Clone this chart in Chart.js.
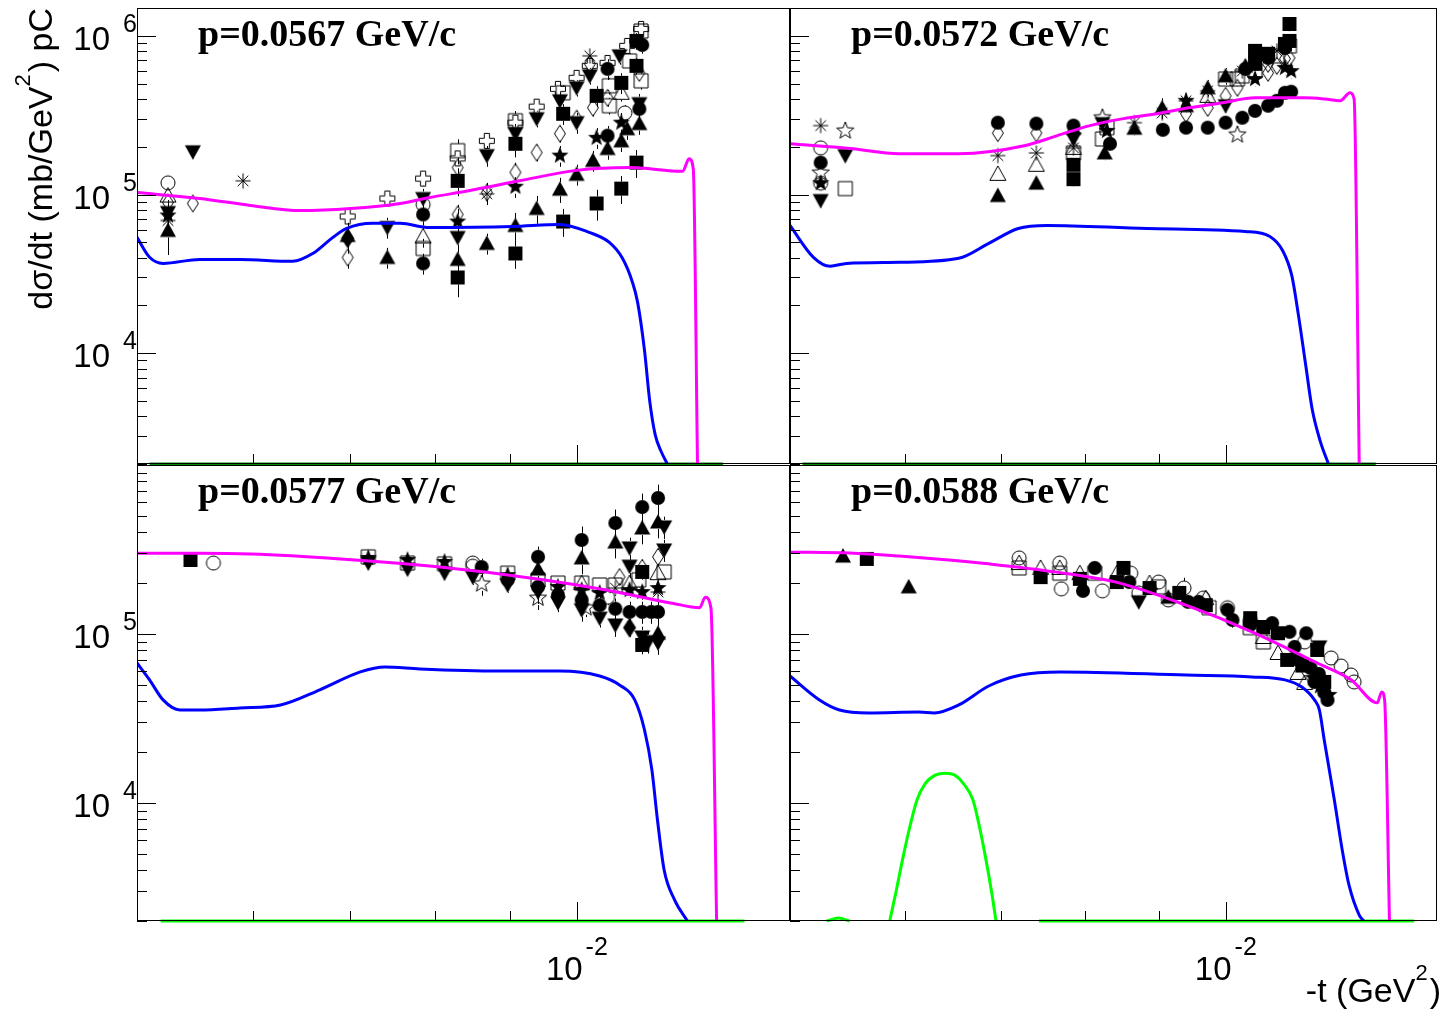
<!DOCTYPE html>
<html>
<head>
<meta charset="utf-8">
<title>dsigma/dt pC</title>
<script src="https://cdn.jsdelivr.net/npm/chart.js@4.4.1/dist/chart.umd.min.js"></script>
<style>
  html, body { margin: 0; padding: 0; background: #fff; }
  #wrap { position: relative; width: 1445px; height: 1010px; }
  #wrap canvas { position: absolute; left: 0; top: 0; }
</style>
</head>
<body>
<div id="wrap">
  <canvas id="tl" width="1445" height="1010"></canvas>
  <canvas id="tr" width="1445" height="1010"></canvas>
  <canvas id="bl" width="1445" height="1010"></canvas>
  <canvas id="br" width="1445" height="1010"></canvas>
</div>
<script>
// -t is given in units of 1e-3 GeV^2, cross sections in mb/GeV^2
// marker rows: [t, dsigma/dt, relative error]

const titles = ['p=0.0567 GeV/c', 'p=0.0572 GeV/c', 'p=0.0577 GeV/c', 'p=0.0588 GeV/c'];
const xRange = [5, 14];
const yRangeTop = [2000, 1.5e6];
const yRangeBottom = [2000, 1e6];

// ---- p = 0.0567 ----
const tl_magenta = [[5.0,1.03e5],[5.52,9.44e4],[5.98,8.53e4],[6.47,7.92e4],[7.0,8.16e4],[7.57,8.78e4],[7.93,9.57e4],[8.45,1.06e5],[9.14,1.22e5],[10.0,1.42e5],[10.87,1.48e5],[11.82,1.40e5],[11.94,1.68e5],[12.02,1.45e5],[12.10,2000]];
const tl_blue = [[5.0,5.37e4],[5.10,4.02e4],[5.21,3.68e4],[5.52,3.90e4],[5.88,3.90e4],[6.39,3.79e4],[6.60,4.26e4],[6.81,5.37e4],[6.96,6.11e4],[7.25,6.58e4],[7.57,6.58e4],[7.93,6.20e4],[9.04,6.29e4],[9.74,6.48e4],[10.2,5.77e4],[10.53,4.99e4],[10.75,3.96e4],[10.92,2.80e4],[11.01,2.09e4],[11.13,1.04e4],[11.22,5060],[11.32,3050],[11.43,2380],[11.54,2000]];
const tl_green = [[5.10,2000],[12.6,2000]];

const tl_fc = [[7.85,7.49e4,.15],[7.85,3.68e4,.15],[10.50,6.20e5,.15],[10.50,2.35e5,.15],[11.09,8.78e5,.12],[11.04,3.47e5,.15]];
const tl_fs = [[8.29,1.22e5,.2],[8.29,3.00e4,.25],[9.08,2.09e5,.18],[9.08,4.25e4,.2],[9.79,3.23e5,.15],[9.79,6.76e4,.2],[10.32,4.19e5,.15],[10.32,8.78e4,.22],[10.73,5.06e5,.15],[10.73,1.09e5,.2],[10.99,9.30e5,.12],[10.99,6.48e5,.12],[10.99,1.59e5,.2]];
const tl_fu = [[5.25,5.94e4,.3],[6.97,5.52e4,.2],[7.42,4.01e4,.15],[8.29,3.90e4,.2],[8.68,4.92e4,.15],[9.08,6.38e4,.2],[9.39,8.17e4,.2],[9.74,1.08e5,.18],[10.0,1.34e5,.15],[10.26,1.64e5,.15],[10.50,1.95e5,.15],[10.73,2.18e5,.15],[10.83,2.60e5,.15],[11.04,2.80e5,.15]];
const tl_fd = [[5.46,1.86e5,.1],[5.25,7.70e4,.2],[7.42,6.20e4,.15],[7.85,9.44e4,.15],[8.29,5.36e4,.2],[8.68,1.76e5,.15],[9.08,2.42e5,.15],[9.39,3.01e5,.12],[9.74,3.90e5,.12],[10.0,4.71e5,.12],[10.0,2.84e5,.15],[10.21,5.60e5,.12],[10.70,7.49e5,.12],[11.04,3.74e5,.15]];
const tl_oc = [[5.25,1.185e5,.1],[7.85,8.65e4,.15],[10.79,3.27e5,.12]];
const tl_os = [[7.85,4.57e4,.15],[8.29,1.89e5,.18],[9.08,2.92e5,.15],[9.79,4.38e5,.12],[10.53,4.85e5,.12],[10.53,3.63e5,.12],[11.07,1.075e6,.1],[11.07,5.21e5,.12],[10.87,6.96e5,.12]];
const tl_ou = [[5.25,9.86e4,.1],[7.85,5.44e4,.15],[10.73,4.38e5,.12]];
const tl_odia = [[5.25,8.91e4,.1],[5.46,8.78e4,.1],[6.97,4.01e4,.15],[8.29,1.48e5,.15],[8.29,7.49e4,.15],[8.68,1.03e5,.15],[9.08,1.38e5,.15],[9.39,1.84e5,.12],[9.74,2.42e5,.12],[10.0,3.01e5,.12],[10.26,3.53e5,.12],[10.21,6.67e5,.1],[10.50,4.07e5,.12],[11.04,5.85e5,.1]];
const tl_fdia = [[6.97,5.29e4,.2]];
const tl_fstar = [[5.25,7.38e4,.2],[8.29,6.76e4,.2],[9.08,1.12e5,.15],[9.74,1.76e5,.15],[10.32,2.28e5,.15],[10.73,2.84e5,.15]];
const tl_ast = [[5.25,6.86e4,.2],[5.91,1.22e5,.1],[8.68,1.01e5,.15],[10.21,7.49e5,.1]];
const tl_ocross = [[6.97,7.27e4,.1],[7.42,9.44e4,.1],[7.85,1.26e5,.1],[8.29,1.69e5,.1],[8.68,2.18e5,.1],[9.08,2.84e5,.1],[9.39,3.58e5,.1],[9.71,4.64e5,.1],[10.0,5.44e5,.1],[10.21,6.48e5,.1],[10.50,6.76e5,.1],[10.83,8.65e5,.08],[11.07,1.107e6,.08]];

// ---- p = 0.0572 ----
const tr_magenta = [[5.0,2.09e5],[5.5,1.95e5],[5.95,1.81e5],[6.54,1.81e5],[7.26,2.03e5],[7.65,2.35e5],[8.06,2.72e5],[8.5,3.01e5],[8.96,3.23e5],[9.43,3.52e5],[9.95,3.79e5],[10.48,4.07e5],[11.34,4.07e5],[11.71,4.0e5],[12.0,3.9e5],[12.19,4.38e5],[12.27,4.0e5],[12.37,2000]];
const tr_blue = [[5.0,6.38e4],[5.19,4.02e4],[5.33,3.53e4],[5.47,3.68e4],[5.95,3.74e4],[6.54,3.96e4],[6.86,4.92e4],[7.19,6.11e4],[7.53,6.38e4],[8.82,6.11e4],[10.32,5.85e4],[10.73,5.44e4],[10.95,4.44e4],[11.11,3.10e4],[11.23,1.73e4],[11.36,8410],[11.48,4390],[11.63,2760],[11.78,2000]];
const tr_green = [[5.1,2000],[12.7,2000]];

const tr_fc = [[5.25,1.59e5,.08],[6.96,2.84e5,.08],[7.40,2.80e5,.08],[7.85,2.72e5,.08],[8.32,2.09e5,.08],[9.05,2.56e5,.06],[9.39,2.64e5,.06],[9.72,2.64e5,.06],[10.0,2.84e5,.06],[10.27,3.05e5,.06],[10.48,3.37e5,.06],[10.70,3.63e5,.06],[10.85,3.90e5,.06],[10.99,4.38e5,.06],[11.10,4.45e5,.06],[10.32,6.20e5,.1],[10.70,7.27e5,.1],[10.99,8.40e5,.1]];
const tr_fs = [[7.85,1.54e5,.1],[7.85,1.25e5,.1],[10.48,8.05e5,.1],[10.48,6.67e5,.1],[10.70,7.72e5,.1],[10.99,8.91e5,.1],[11.07,1.19e6,.1],[11.07,9.30e5,.1]];
const tr_fu = [[6.96,9.86e4,.08],[7.40,1.18e5,.08],[7.85,2.62e5,.1],[8.25,1.83e5,.1],[8.65,2.62e5,.1],[9.04,3.52e5,.15],[9.39,3.63e5,.1],[9.72,4.71e5,.12],[10.0,5.60e5,.12],[10.32,6.48e5,.1]];
const tr_fd = [[5.25,9.17e4,.1],[5.46,1.76e5,.08],[8.22,2.80e5,.1],[10.0,3.63e5,.1],[7.85,2.24e5,.1]];
const tr_oc = [[5.25,1.97e5,.08],[5.25,1.18e5,.08]];
const tr_os = [[5.46,1.09e5,.05],[7.85,1.83e5,.1],[8.22,2.24e5,.1],[8.28,2.64e5,.1],[10.0,5.35e5,.1],[10.19,5.35e5,.1],[10.27,5.60e5,.1],[10.48,6.02e5,.1],[10.85,7.49e5,.1],[11.07,8.65e5,.1]];
const tr_ou = [[6.96,1.35e5,.08],[7.40,1.54e5,.08],[9.72,4.19e5,.1],[7.85,1.97e5,.1]];
const tr_odia = [[6.96,2.44e5,.08],[7.40,2.44e5,.08],[9.39,3.23e5,.1],[9.72,3.52e5,.1],[10.0,4.19e5,.1],[10.19,4.71e5,.1],[10.70,5.85e5,.1],[10.70,6.67e5,.1],[10.85,6.48e5,.1],[10.99,7.17e5,.1],[11.07,7.27e5,.1]];
const tr_fstar = [[5.25,1.18e5,.08],[8.28,2.52e5,.1],[9.39,3.90e5,.1],[10.48,5.35e5,.1],[10.99,6.29e5,.1],[11.10,6.0e5,.1]];
const tr_ostar = [[5.25,1.37e5,.08],[5.46,2.52e5,.08],[8.22,3.05e5,.1],[10.19,2.38e5,.08]];
const tr_ast = [[5.25,2.72e5,.08],[6.96,1.76e5,.08],[7.40,1.83e5,.08],[7.85,1.97e5,.1],[8.65,2.84e5,.1],[9.04,3.27e5,.1],[9.39,3.90e5,.1],[9.72,4.51e5,.1],[10.27,6.02e5,.1],[10.85,8.05e5,.1]];

// ---- p = 0.0577 ----
const bl_magenta = [[5.0,3.0e5],[5.52,3.0e5],[5.98,2.97e5],[6.89,2.78e5],[8.06,2.49e5],[9.43,2.11e5],[10.48,1.82e5],[11.63,1.52e5],[12.14,1.43e5],[12.25,1.65e5],[12.36,1.42e5],[12.47,2000]];
const bl_blue = [[5.0,6.73e4],[5.10,5.35e4],[5.21,4.07e4],[5.35,3.55e4],[5.52,3.55e4],[5.88,3.65e4],[6.27,3.80e4],[6.67,4.67e4],[7.11,5.96e4],[7.39,6.38e4],[7.81,6.21e4],[8.86,6.04e4],[9.74,6.04e4],[10.37,5.64e4],[10.70,4.99e4],[10.96,4.07e4],[11.13,2.70e4],[11.26,1.57e4],[11.36,7920],[11.48,4010],[11.67,2670],[11.91,2000]];
const bl_green = [[5.19,2000],[13.03,2000]];

const bl_fc = [[8.61,2.49e5,.12],[8.97,2.09e5,.12],[9.41,2.86e5,.15],[9.41,1.90e5,.15],[9.71,1.70e5,.12],[10.08,3.60e5,.2],[10.08,1.59e5,.15],[10.37,1.48e5,.12],[10.63,4.54e5,.2],[10.63,1.41e5,.15],[10.87,1.35e5,.15],[11.09,5.64e5,.2],[11.09,1.35e5,.15],[11.25,1.35e5,.15],[11.37,6.38e5,.2],[11.37,1.35e5,.15]];
const bl_fs = [[5.44,2.74e5,.05],[11.09,2.33e5,.1],[11.09,8.61e4,.12]];
const bl_fu = [[9.41,2.42e5,.15],[10.08,2.82e5,.2],[10.63,3.50e5,.2],[11.09,4.24e5,.2],[11.37,4.60e5,.2],[11.37,1.01e5,.15]];
const bl_fd = [[7.20,2.63e5,.05],[7.66,2.42e5,.05],[8.12,2.29e5,.06],[8.49,2.17e5,.1],[8.97,1.95e5,.1],[9.41,1.77e5,.15],[9.71,1.53e5,.12],[10.08,1.39e5,.15],[10.37,1.24e5,.12],[10.63,1.13e5,.15],[10.87,3.23e5,.15],[10.87,2.52e5,.15],[11.09,9.60e4,.15],[11.20,9.0e4,.15],[11.48,4.30e5,.15],[11.48,3.14e5,.15],[11.37,8.85e4,.15]];
const bl_oc = [[5.64,2.63e5,.05],[8.49,2.63e5,.1],[8.49,2.52e5,.1],[10.50,1.65e5,.1]];
const bl_os = [[7.20,2.86e5,.05],[7.66,2.63e5,.05],[8.12,2.60e5,.06],[8.97,2.29e5,.08],[9.41,2.09e5,.1],[9.71,2.00e5,.1],[10.08,2.00e5,.1],[10.37,1.95e5,.1],[10.63,1.95e5,.1],[11.03,2.09e5,.1],[11.48,2.33e5,.1]];
const bl_ou = [[10.08,2.00e5,.1],[10.87,2.00e5,.1],[11.37,2.29e5,.1]];
const bl_odia = [[10.70,2.17e5,.1],[11.09,2.46e5,.12],[11.37,2.86e5,.12]];
const bl_fdia = [[10.87,1.09e5,.12]];
const bl_fstar = [[7.20,2.82e5,.05],[7.66,2.74e5,.05],[8.12,2.67e5,.06],[8.97,2.23e5,.08],[9.71,1.90e5,.1],[10.08,1.82e5,.1],[10.37,1.75e5,.1],[10.87,1.82e5,.1],[11.09,1.77e5,.1],[11.37,1.87e5,.1]];
const bl_ostar = [[8.61,1.98e5,.15],[9.41,1.63e5,.15],[10.15,1.43e5,.12]];
const bl_ast = [[10.63,1.87e5,.1],[11.37,1.77e5,.1]];

// ---- p = 0.0588 ----
const br_magenta = [[5.0,3.05e5],[5.5,3.01e5],[5.95,2.89e5],[6.44,2.74e5],[6.86,2.60e5],[7.62,2.33e5],[8.45,2.0e5],[9.39,1.48e5],[10.43,1.03e5],[11.57,6.73e4],[12.21,5.35e4],[12.73,3.91e4],[12.82,4.54e4],[12.88,4.07e4],[12.98,2000]];
const br_blue = [[5.0,5.64e4],[5.24,4.07e4],[5.41,3.55e4],[5.67,3.41e4],[6.14,3.45e4],[6.29,3.41e4],[6.54,3.80e4],[6.86,4.92e4],[7.22,5.71e4],[7.69,5.96e4],[9.39,5.71e4],[10.43,5.57e4],[10.99,5.35e4],[11.29,4.85e4],[11.52,4.07e4],[11.61,3.55e4],[11.70,2.36e4],[11.89,1.04e4],[12.04,5270],[12.17,3270],[12.37,2170],[12.46,2000]];
const br_green = [[5.30,2000],[5.40,2080],[5.50,2000],[5.55,null],[5.86,2000],[5.92,3000],[5.98,4600],[6.05,7200],[6.12,1.04e4],[6.20,1.30e4],[6.30,1.46e4],[6.40,1.5e4],[6.50,1.46e4],[6.59,1.30e4],[6.69,1.04e4],[6.76,7200],[6.83,4600],[6.89,3000],[6.94,2000],[7.0,null],[7.43,2000],[13.5,2000]];

const br_fc = [[7.97,1.80e5,.05],[8.12,2.46e5,.05],[8.58,2.03e5,.05],[9.42,1.55e5,.08],[9.58,1.55e5,.06],[10.03,1.39e5,.06],[10.11,1.21e5,.1],[10.40,1.13e5,.06],[10.77,1.16e5,.08],[11.07,1.03e5,.08],[11.16,8.38e4,.08],[11.37,1.01e5,.08],[11.22,7.02e4,.06],[11.45,6.28e4,.06],[11.60,5.80e4,.06],[11.52,5.20e4,.06],[11.70,4.5e4,.08],[11.76,4.07e4,.08]];
const br_oc = [[7.20,2.82e5,.04],[7.68,2.63e5,.04],[7.70,1.85e5,.04],[8.22,1.80e5,.05],[8.60,2.29e5,.05],[8.71,1.75e5,.05],[8.99,2.03e5,.05],[9.13,1.59e5,.05],[9.36,1.87e5,.15],[9.65,1.63e5,.05],[10.03,1.43e5,.06],[10.40,1.21e5,.06],[11.34,8.97e4,.06],[11.83,7.21e4,.05],[12.02,6.46e4,.05],[12.21,5.72e4,.05],[12.27,5.20e4,.05]];
const br_os = [[7.20,2.46e5,.04],[7.68,2.29e5,.04],[8.12,2.29e5,.04],[8.99,1.90e5,.05],[9.74,1.43e5,.05],[10.40,1.09e5,.06],[10.62,8.97e4,.06]];
const br_ou = [[7.20,2.63e5,.04],[7.45,2.46e5,.04],[7.68,2.46e5,.04],[7.93,2.29e5,.04],[8.41,2.29e5,.04],[8.86,2.00e5,.05],[9.69,1.63e5,.05],[10.62,9.60e4,.06],[10.87,7.72e4,.06],[11.22,5.88e4,.06],[11.34,5.13e4,.06],[11.57,5.57e4,.06]];
const br_fs = [[5.65,2.78e5,.04],[7.45,2.17e5,.04],[7.93,2.12e5,.04],[8.41,2.03e5,.04],[8.50,2.46e5,.04],[8.86,1.87e5,.05],[9.29,1.75e5,.05],[9.69,1.48e5,.05],[10.40,1.24e5,.06],[10.62,1.10e5,.06],[10.87,1.01e5,.06],[11.03,7.02e4,.06],[11.30,6.50e4,.06],[11.57,8.04e4,.06],[11.70,5.20e4,.06]];
const br_fu = [[5.44,2.89e5,.04],[6.04,1.90e5,.04],[9.13,1.65e5,.05]];
const br_fd = [[8.71,1.55e5,.05],[11.61,8.38e4,.06]];
const br_fstar = [[11.79,4.36e4,.06],[11.62,4.9e4,.06],[11.50,5.5e4,.06]];

const SANS = '"Liberation Sans", Arial, sans-serif';
const SERIF = '"Liberation Serif", "Times New Roman", serif';
const MAGENTA = '#ff00ff', BLUE = '#0000ff', DARKGREEN = '#008c00', GREEN = '#00ff00';
const MARKER_HALF = 7; // half height of a marker, error bars stop here

// marker glyphs painted once on small canvases and used as pointStyle images
function makeMarker(shape, filled) {
  const c = document.createElement('canvas');
  c.width = 24; c.height = 24;
  const g = c.getContext('2d');
  g.translate(12, 12);
  g.strokeStyle = '#000';
  g.fillStyle = '#000';
  g.lineWidth = 1;
  g.beginPath();
  if (shape === 'circle') {
    g.arc(0, 0, 7, 0, Math.PI * 2);
  } else if (shape === 'square') {
    g.rect(-7, -7, 14, 14);
  } else if (shape === 'up') {
    g.moveTo(0, -8); g.lineTo(8, 6.5); g.lineTo(-8, 6.5); g.closePath();
  } else if (shape === 'down') {
    g.moveTo(0, 8); g.lineTo(8, -6.5); g.lineTo(-8, -6.5); g.closePath();
  } else if (shape === 'diamond') {
    const w = filled ? 6.5 : 5.5, h = filled ? 10 : 8.5;
    g.moveTo(0, -h); g.lineTo(w, 0); g.lineTo(0, h); g.lineTo(-w, 0); g.closePath();
  } else if (shape === 'star') {
    for (let i = 0; i < 10; i++) {
      const r = i % 2 ? 3.8 : 9;
      const a = -Math.PI / 2 + i * Math.PI / 5;
      g.lineTo(r * Math.cos(a), r * Math.sin(a));
    }
    g.closePath();
  } else if (shape === 'cross') {
    const a = 2.6, b = 7.5;
    g.moveTo(-a, -b); g.lineTo(a, -b); g.lineTo(a, -a); g.lineTo(b, -a); g.lineTo(b, a);
    g.lineTo(a, a); g.lineTo(a, b); g.lineTo(-a, b); g.lineTo(-a, a); g.lineTo(-b, a);
    g.lineTo(-b, -a); g.lineTo(-a, -a); g.closePath();
  } else if (shape === 'asterisk') {
    for (let i = 0; i < 4; i++) {
      const a = i * Math.PI / 4;
      g.moveTo(-7.5 * Math.cos(a), -7.5 * Math.sin(a));
      g.lineTo(7.5 * Math.cos(a), 7.5 * Math.sin(a));
    }
    g.stroke();
    return c;
  }
  if (filled) g.fill(); else g.stroke();
  return c;
}

const M = {
  fc: makeMarker('circle', true), oc: makeMarker('circle', false),
  fs: makeMarker('square', true), os: makeMarker('square', false),
  fu: makeMarker('up', true), ou: makeMarker('up', false),
  fd: makeMarker('down', true),
  fdia: makeMarker('diamond', true), odia: makeMarker('diamond', false),
  fstar: makeMarker('star', true), ostar: makeMarker('star', false),
  ocross: makeMarker('cross', false), ast: makeMarker('asterisk', false)
};

function curve(rows, color, width, clipBottom) {
  return {
    data: rows.map(r => ({ x: r[0] * 1e-3, y: r[1] })),
    showLine: true,
    borderColor: color,
    borderWidth: width,
    pointRadius: 0,
    cubicInterpolationMode: 'monotone',
    spanGaps: false,
    clip: clipBottom ? { left: 0, top: 0, right: 0, bottom: 3 } : 0
  };
}

function markers(rows, glyph) {
  return {
    data: rows.map(r => ({ x: r[0] * 1e-3, y: r[1], err: r[2] })),
    showLine: false,
    pointStyle: glyph,
    pointRadius: 7,
    errorBars: true
  };
}

function logTicks(min, max) {
  const out = [];
  for (let e = Math.floor(Math.log10(min)); e <= Math.ceil(Math.log10(max)); e++) {
    for (let m = 1; m <= 9; m++) {
      const v = m * Math.pow(10, e);
      if (v >= min * 0.999 && v <= max * 1.001) out.push({ v: v, major: m === 1, e: e });
    }
  }
  return out;
}

// text with a raised exponent, drawn left to right from (x, y)
function supText(ctx, parts, x, y, size, supSize, raise) {
  let cx = x;
  parts.forEach(p => {
    ctx.font = (p.sup ? supSize : size) + 'px ' + SANS;
    ctx.fillText(p.t, cx, p.sup ? y - raise : y);
    cx += ctx.measureText(p.t).width + (p.sup ? 2 : 0);
  });
  return cx - x;
}
function supWidth(ctx, parts, size, supSize) {
  let w = 0;
  parts.forEach(p => {
    ctx.font = (p.sup ? supSize : size) + 'px ' + SANS;
    w += ctx.measureText(p.t).width + (p.sup ? 2 : 0);
  });
  return w;
}

// ROOT style frame: inner ticks, 10^n labels, panel title, error bars
const rootFrame = {
  id: 'rootFrame',
  beforeDatasetsDraw(chart) {
    const { ctx, chartArea: a, scales: { x, y } } = chart;
    ctx.save();
    ctx.beginPath();
    ctx.rect(a.left, a.top, a.right - a.left, a.bottom - a.top);
    ctx.clip();
    ctx.strokeStyle = '#000';
    ctx.lineWidth = 1;
    ctx.beginPath();
    chart.data.datasets.forEach(ds => {
      if (!ds.errorBars) return;
      ds.data.forEach(p => {
        const px = Math.round(x.getPixelForValue(p.x)) + 0.5;
        const py = y.getPixelForValue(p.y);
        const hi = y.getPixelForValue(p.y * (1 + p.err));
        const lo = y.getPixelForValue(p.y * (1 - p.err));
        if (hi < py - MARKER_HALF) { ctx.moveTo(px, hi); ctx.lineTo(px, py - MARKER_HALF); }
        if (lo > py + MARKER_HALF) { ctx.moveTo(px, py + MARKER_HALF); ctx.lineTo(px, lo); }
      });
    });
    ctx.stroke();
    ctx.restore();
  },
  afterDatasetsDraw(chart, args, o) {
    const { ctx, chartArea: a, scales: { x, y } } = chart;
    ctx.save();
    ctx.strokeStyle = '#000';
    ctx.fillStyle = '#000';
    ctx.lineWidth = 1;
    ctx.strokeRect(Math.round(a.left) + 0.5, Math.round(a.top) + 0.5,
      Math.round(a.right - a.left) - 1, Math.round(a.bottom - a.top) - 1);

    ctx.beginPath();
    logTicks(y.min, y.max).forEach(t => {
      const py = Math.round(y.getPixelForValue(t.v)) + 0.5;
      ctx.moveTo(a.left, py);
      ctx.lineTo(a.left + (t.major ? 19 : 10), py);
    });
    logTicks(x.min, x.max).forEach(t => {
      const px = Math.round(x.getPixelForValue(t.v)) + 0.5;
      ctx.moveTo(px, a.bottom);
      ctx.lineTo(px, a.bottom - (t.major ? 19 : 10));
    });
    ctx.stroke();

    ctx.textBaseline = 'alphabetic';
    if (o.yLabels) {
      logTicks(y.min, y.max).filter(t => t.major).forEach(t => {
        const py = y.getPixelForValue(t.v);
        if (py < a.top + 10) return;
        ctx.textAlign = 'right';
        ctx.font = '33px ' + SANS;
        ctx.fillText('10', a.left - 27, py + 14);
        ctx.textAlign = 'left';
        ctx.font = '25px ' + SANS;
        ctx.fillText(String(t.e), a.left - 14, py - 4);
      });
    }
    if (o.xLabels) {
      logTicks(x.min, x.max).filter(t => t.major).forEach(t => {
        const px = x.getPixelForValue(t.v);
        ctx.textAlign = 'right';
        ctx.font = '33px ' + SANS;
        ctx.fillText('10', px + 6, 980);
        ctx.textAlign = 'left';
        ctx.font = '25px ' + SANS;
        ctx.fillText(String(t.e), px + 9, 955);
      });
    }

    ctx.textAlign = 'left';
    ctx.font = 'bold 38px ' + SERIF;
    ctx.fillText(o.title, a.left + 61, a.top + 38);

    if (o.yTitle) {
      const parts = [{ t: 'd\u03c3/dt (mb/GeV' }, { t: '2', sup: true }, { t: ') pC' }];
      const w = supWidth(ctx, parts, 34, 22);
      ctx.save();
      ctx.translate(52, 8);
      ctx.rotate(-Math.PI / 2);
      supText(ctx, parts, -w, 0, 34, 22, 22);
      ctx.restore();
    }
    if (o.xTitle) {
      const parts = [{ t: '-t (GeV' }, { t: '2', sup: true }, { t: ')' }];
      const w = supWidth(ctx, parts, 34, 22);
      supText(ctx, parts, 1441 - w, 1002, 34, 22, 22);
    }
    ctx.restore();
  }
};

function panel(id, pad, yRange, frameOpts, datasets) {
  return new Chart(document.getElementById(id), {
    type: 'scatter',
    data: { datasets: datasets },
    options: {
      responsive: false,
      maintainAspectRatio: false,
      animation: false,
      events: [],
      layout: { padding: pad },
      scales: {
        x: { type: 'logarithmic', min: xRange[0] * 1e-3, max: xRange[1] * 1e-3, display: false },
        y: { type: 'logarithmic', min: yRange[0], max: yRange[1], display: false }
      },
      plugins: {
        legend: { display: false },
        tooltip: { enabled: false },
        rootFrame: frameOpts
      }
    },
    plugins: [rootFrame]
  });
}

panel('tl', { left: 137, top: 6, right: 655, bottom: 546 }, yRangeTop,
  { title: titles[0], yLabels: true, yTitle: true }, [
    curve(tl_magenta, MAGENTA, 3), curve(tl_blue, BLUE, 3), curve(tl_green, DARKGREEN, 3, true),
    markers(tl_fc, M.fc), markers(tl_fs, M.fs), markers(tl_fu, M.fu), markers(tl_fd, M.fd),
    markers(tl_fdia, M.fdia), markers(tl_fstar, M.fstar), markers(tl_ast, M.ast),
    markers(tl_ocross, M.ocross), markers(tl_odia, M.odia), markers(tl_ou, M.ou),
    markers(tl_os, M.os), markers(tl_oc, M.oc)
  ]);

panel('tr', { left: 790, top: 6, right: 3, bottom: 546 }, yRangeTop,
  { title: titles[1] }, [
    curve(tr_magenta, MAGENTA, 3), curve(tr_blue, BLUE, 3), curve(tr_green, DARKGREEN, 3, true),
    markers(tr_fc, M.fc), markers(tr_fs, M.fs), markers(tr_fu, M.fu), markers(tr_fd, M.fd),
    markers(tr_fstar, M.fstar), markers(tr_ast, M.ast), markers(tr_odia, M.odia),
    markers(tr_ou, M.ou), markers(tr_os, M.os), markers(tr_oc, M.oc), markers(tr_ostar, M.ostar)
  ]);

panel('bl', { left: 137, top: 465, right: 655, bottom: 89 }, yRangeBottom,
  { title: titles[2], yLabels: true, xLabels: true }, [
    curve(bl_magenta, MAGENTA, 3), curve(bl_blue, BLUE, 3), curve(bl_green, GREEN, 3, true),
    markers(bl_fc, M.fc), markers(bl_fs, M.fs), markers(bl_fu, M.fu), markers(bl_fd, M.fd),
    markers(bl_fdia, M.fdia), markers(bl_fstar, M.fstar), markers(bl_ast, M.ast),
    markers(bl_odia, M.odia), markers(bl_ou, M.ou), markers(bl_os, M.os),
    markers(bl_oc, M.oc), markers(bl_ostar, M.ostar)
  ]);

panel('br', { left: 790, top: 465, right: 3, bottom: 89 }, yRangeBottom,
  { title: titles[3], xLabels: true, xTitle: true }, [
    curve(br_magenta, MAGENTA, 3), curve(br_blue, BLUE, 3), curve(br_green, GREEN, 3, true),
    markers(br_fc, M.fc), markers(br_fs, M.fs), markers(br_fu, M.fu), markers(br_fd, M.fd),
    markers(br_fstar, M.fstar), markers(br_ou, M.ou), markers(br_os, M.os), markers(br_oc, M.oc)
  ]);
</script>
</body>
</html>
